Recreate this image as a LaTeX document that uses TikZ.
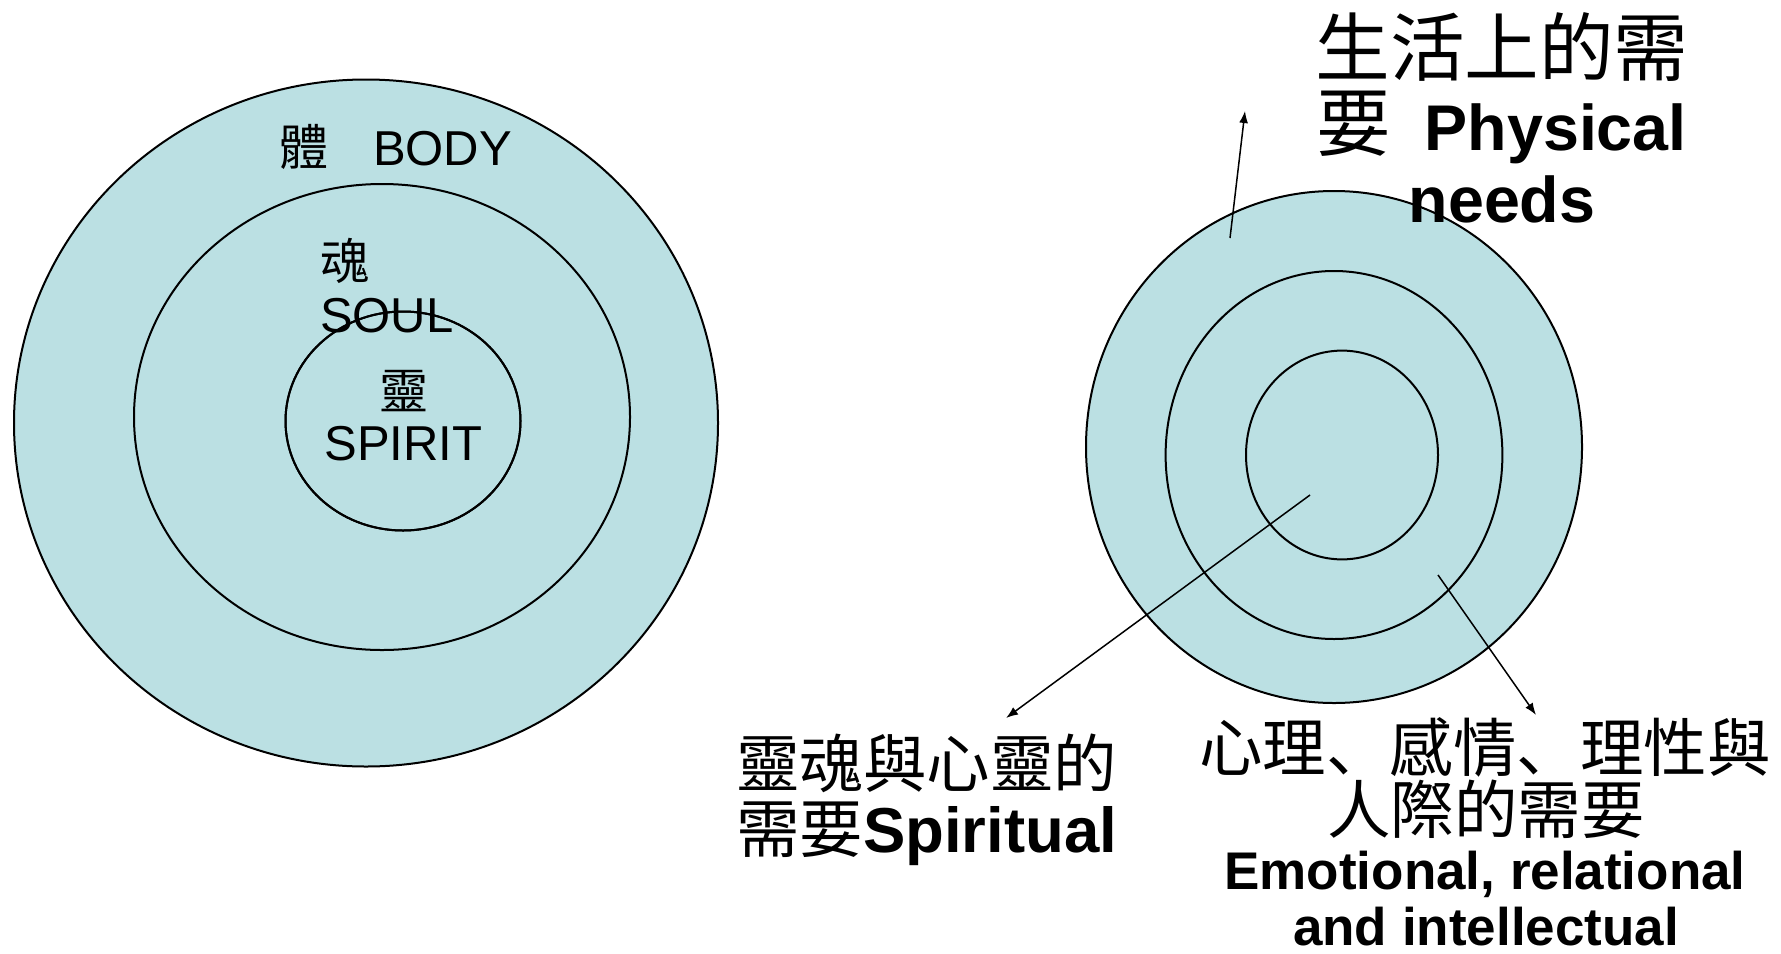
\documentclass[tikz,border=0pt]{standalone}
\usepackage{fontspec}
\setmainfont{Liberation Sans}
\newfontfamily\cjk{Noto Sans CJK TC}
\newfontfamily\cjksc{Noto Sans CJK SC}
\usetikzlibrary{arrows.meta}
\definecolor{ringfill}{HTML}{BBE0E3}
\begin{document}
\begin{tikzpicture}[x=0.5pt,y=-0.5pt,
  ring/.style={fill=ringfill,draw=black,line width=1pt},
  ringline/.style={draw=black,line width=1pt},
  pointer/.style={draw=black,line width=0.75pt,-{Latex[length=6pt,width=4.5pt]}},
  lbl/.style={inner sep=0pt,outer sep=0pt},
  smalltxt/.style={lbl,font=\fontsize{24.5pt}{28pt}\selectfont},
  bigcjk/.style={lbl,font=\fontsize{37.3pt}{40pt}\selectfont\cjk},
  midtxt/.style={lbl,font=\fontsize{31.75pt}{36pt}\selectfont},
  boldtxt/.style={lbl,font=\fontsize{32.3pt}{36pt}\selectfont\bfseries},
  smallbold/.style={lbl,font=\fontsize{26.5pt}{30pt}\selectfont\bfseries},
]
\useasboundingbox (0,0) rectangle (1781,953);
\fill[white] (0,0) rectangle (1781,953);

% left rings
\path[ring] (366,423) ellipse [x radius=176pt, y radius=171.75pt];
\path[ring] (382,417) ellipse [x radius=124pt, y radius=116.5pt];
\path[ring] (403,421) ellipse [x radius=58.75pt, y radius=54.75pt];

% right rings
\path[ring] (1334,447) ellipse [x radius=124pt, y radius=128pt];
\path[ring] (1334,455) ellipse [x radius=84.2pt, y radius=92pt];
\path[ring] (1342,455) ellipse [x radius=48pt, y radius=52.2pt];

% left labels
\node[smalltxt,anchor=base west] (body) at (279,165) {{\cjk 體}\hspace{22.5pt}BODY};
\node[smalltxt,anchor=base west] (soulcjk) at (320,279) {\cjk 魂};
\node[smalltxt,anchor=base west] (soul) at (320,332) {SOUL};
\node[smalltxt,anchor=base] (spiritcjk) at (403.5,409) {\cjk 靈};
\node[smalltxt,anchor=base] (spirit) at (403.5,460) {SPIRIT};

% inner left outline redrawn over SOUL
\path[ringline] (403,421) ellipse [x radius=58.75pt, y radius=54.75pt];

% right top label
\node[bigcjk,anchor=base] (phys1) at (1502,75) {生活上的需};
\node[boldtxt,anchor=base west] (phys2) at (1316,150) {{\mdseries\fontsize{37.3pt}{40pt}\selectfont\cjk 要}\hspace{17pt}Physical};
\node[boldtxt,anchor=base] (phys3) at (1502,222) {needs};

% bottom left label
\node[midtxt,anchor=base west] (spir1) at (736,787) {\cjk 靈魂與心靈的};
\node[midtxt,anchor=base west] (spir2) at (736,852) {{\cjk 需要}\textbf{Spiritual}};

% bottom right label
\node[midtxt,anchor=base] (emo1) at (1485,771) {\cjk 心理{\cjksc 、}感情{\cjksc 、}理性與};
\node[midtxt,anchor=base] (emo2) at (1486,833) {\cjk 人際的需要};
\node[smallbold,anchor=base] (emo3) at (1485,889) {Emotional, relational};
\node[smallbold,anchor=base] (emo4) at (1486,945) {and intellectual};

% arrows
\coordinate (physStart) at (1230,238);
\coordinate (physEnd) at (1245,111);
\coordinate (spirStart) at (1310,495);
\coordinate (spirEnd) at (1006,718);
\coordinate (emoStart) at (1438,575);
\coordinate (emoEnd) at (1536,715);
\draw[pointer] (physStart) -- (physEnd);
\draw[pointer] (spirStart) -- (spirEnd);
\draw[pointer] (emoStart) -- (emoEnd);
\end{tikzpicture}
\end{document}
